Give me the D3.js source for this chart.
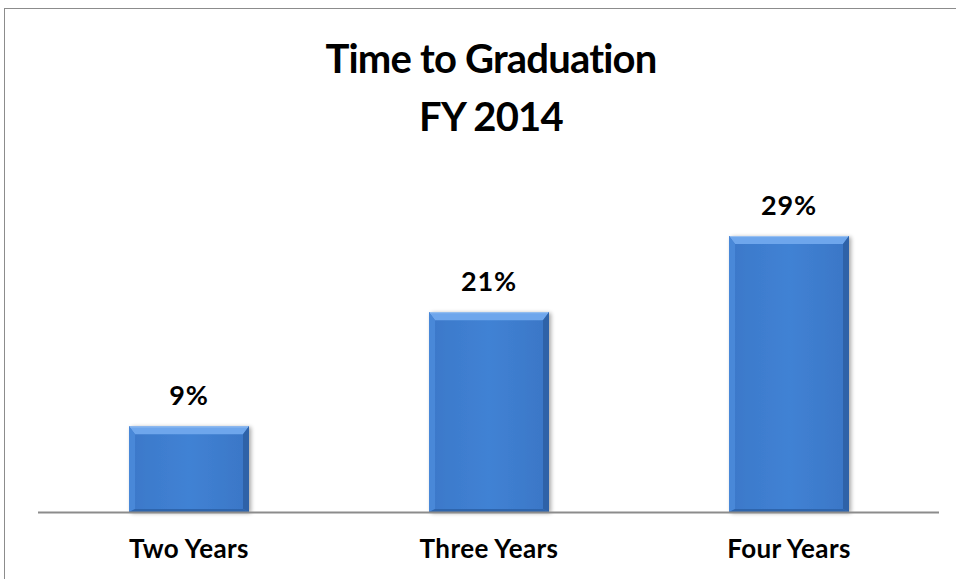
<!DOCTYPE html>
<html>
<head>
<meta charset="utf-8">
<script src="https://cdn.jsdelivr.net/npm/d3@7"></script>
<style>
	body { margin: 0; background: #fff; }
	svg { display: block; font-family: Lato, "Open Sans", sans-serif; font-weight: bold; font-variant-ligatures: none; }
</style>
</head>
<body>
<svg id="chart"></svg>
<script>
'use strict'

var WIDTH = 956,
	HEIGHT = 579;

var categories = ["Two Years", "Three Years", "Four Years"];
var values = [9, 21, 29];
var titleLines = ["Time to Graduation", "FY 2014"];

var plot = { left: 38, right: 939, top: 179, bottom: 512 };

var svg = d3.select("#chart")
	.attr("width", WIDTH)
	.attr("height", HEIGHT);

var defs = svg.append("defs");

var grad = defs.append("linearGradient")
	.attr("id", "barGrad")
	.attr("x1", 0).attr("y1", 0).attr("x2", 1).attr("y2", 0);
grad.append("stop").attr("offset", "0%").attr("stop-color", "#3b78c9");
grad.append("stop").attr("offset", "50%").attr("stop-color", "#4182d4");
grad.append("stop").attr("offset", "100%").attr("stop-color", "#3a76c6");

var shadow = defs.append("filter")
	.attr("id", "shadow")
	.attr("x", "-20%").attr("y", "-20%")
	.attr("width", "140%").attr("height", "140%");
shadow.append("feGaussianBlur").attr("in", "SourceAlpha").attr("stdDeviation", 2);
shadow.append("feOffset").attr("dx", 2).attr("dy", 1).attr("result", "blur");
shadow.append("feComponentTransfer").append("feFuncA").attr("type", "linear").attr("slope", 0.35);
var merge = shadow.append("feMerge");
merge.append("feMergeNode");
merge.append("feMergeNode").attr("in", "SourceGraphic");

// outer frame
svg.append("rect")
	.attr("x", 4.5)
	.attr("y", 8.5)
	.attr("width", WIDTH + 10)
	.attr("height", HEIGHT + 10)
	.style("fill", "none")
	.style("stroke", "#8c8c8c")
	.style("stroke-width", 1);

var x = d3.scaleBand()
	.domain(categories)
	.range([plot.left + 1, plot.right])
	.paddingInner(0.6)
	.paddingOuter(0.3);

var y = d3.scaleLinear()
	.domain([0, 35])
	.range([plot.bottom, plot.top]);

// title
svg.selectAll(".title")
	.data(titleLines)
	.enter().append("text")
	.attr("class", "title")
	.attr("x", 491)
	.attr("y", function(d, i) { return 73 + i * 58; })
	.attr("text-anchor", "middle")
	.style("font-size", "40px")
	.style("letter-spacing", "-0.8px")
	.text(function(d) { return d; });

// bars with bevel
var bars = svg.selectAll(".bar")
	.data(values)
	.enter().append("g")
	.attr("class", "bar")
	.attr("filter", "url(#shadow)");

bars.each(function(d, i) {
	var g = d3.select(this);
	var x0 = x(categories[i]),
		x1 = x0 + x.bandwidth(),
		y0 = y(d),
		y1 = y(0),
		b = 8, s = 6;

	g.append("rect")
		.attr("x", x0).attr("y", y0)
		.attr("width", x1 - x0).attr("height", y1 - y0)
		.style("fill", "url(#barGrad)");

	// top bevel
	g.append("path")
		.attr("d", "M" + x0 + "," + y0 + "L" + x1 + "," + y0 + "L" + (x1 - s) + "," + (y0 + b) + "L" + (x0 + s) + "," + (y0 + b) + "Z")
		.style("fill", "#6ea6ec");
	// left bevel
	g.append("path")
		.attr("d", "M" + x0 + "," + y0 + "L" + (x0 + s) + "," + (y0 + b) + "L" + (x0 + s) + "," + (y1 - 3) + "L" + x0 + "," + y1 + "Z")
		.style("fill", "#4a88d8");
	// right bevel
	g.append("path")
		.attr("d", "M" + x1 + "," + y0 + "L" + (x1 - s) + "," + (y0 + b) + "L" + (x1 - s) + "," + (y1 - 3) + "L" + x1 + "," + y1 + "Z")
		.style("fill", "#2e62a8");
	// bottom bevel
	g.append("path")
		.attr("d", "M" + x0 + "," + y1 + "L" + (x0 + s) + "," + (y1 - 3) + "L" + (x1 - s) + "," + (y1 - 3) + "L" + x1 + "," + y1 + "Z")
		.style("fill", "#2f65ad");
	// thin light line on top edge
	g.append("line")
		.attr("x1", x0 + 1).attr("x2", x1 - 1)
		.attr("y1", y0 + 0.5).attr("y2", y0 + 0.5)
		.style("stroke", "#9cc3f2");
});

// value labels
svg.selectAll(".label")
	.data(values)
	.enter().append("text")
	.attr("class", "label")
	.attr("x", function(d, i) { return x(categories[i]) + x.bandwidth() / 2; })
	.attr("y", function(d) { return y(d) - 21; })
	.attr("text-anchor", "middle")
	.style("font-size", "27px")
	.style("letter-spacing", "0.8px")
	.text(function(d) { return d + "%"; });

// x axis
var xAxis = svg.append("g")
	.attr("transform", "translate(0," + (plot.bottom + 0.5) + ")")
	.call(d3.axisBottom(x).tickSize(0).tickPadding(27));

xAxis.select(".domain")
	.attr("d", "M" + plot.left + ",0H" + plot.right)
	.style("stroke", "#8c8c8c")
	.style("stroke-width", 2);

xAxis.selectAll("text")
	.style("font-family", "Lato, 'Open Sans', sans-serif")
	.style("font-weight", "bold")
	.style("font-size", "26px")
	.style("letter-spacing", "0.4px")
	.style("fill", "#000");
</script>
</body>
</html>
